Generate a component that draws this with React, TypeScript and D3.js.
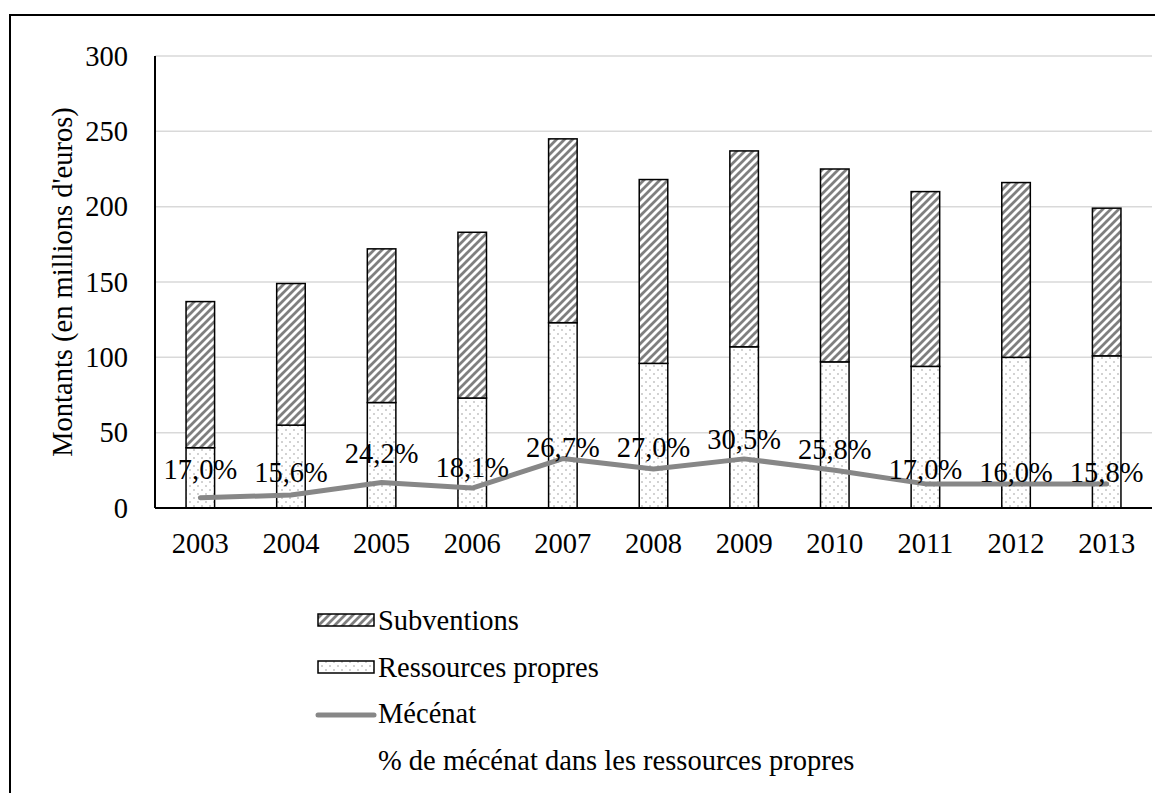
import * as d3 from 'd3';

const annees = ['2003', '2004', '2005', '2006', '2007', '2008', '2009', '2010', '2011', '2012', '2013'];
const ressourcesPropres = [40, 55, 70, 73, 123, 96, 107, 97, 94, 100, 101];
const subventions = [97, 94, 102, 110, 122, 122, 130, 128, 116, 116, 98];
const mecenat = [6.8, 8.6, 16.9, 13.2, 32.8, 25.9, 32.6, 25, 16, 16, 16];
const pctMecenat = [17.0, 15.6, 24.2, 18.1, 26.7, 27.0, 30.5, 25.8, 17.0, 16.0, 15.8];
const yTicks = [0, 50, 100, 150, 200, 250, 300];
const legendLabels = ['Subventions', 'Ressources propres', 'Mécénat', '% de mécénat dans les ressources propres'];

const GRIS = '#878787';
const SERIF = '"Liberation Serif", Tinos, "Times New Roman", Times, serif';

const left = 155, right = 1152, top = 56, bottom = 508;

const App = () => {
    const x = d3.scaleBand().domain(annees).range([left, right])
        .paddingInner(0.685).paddingOuter(0.3425);
    const y = d3.scaleLinear().domain([0, 300]).range([bottom, top]);
    // axe secondaire masqué pour les étiquettes de pourcentage
    const yPct = d3.scaleLinear().domain([0, 200]).range([bottom, top]);
    const bw = x.bandwidth();
    const cx = (a: string) => (x(a) ?? 0) + bw / 2;

    const line = d3.line<number>()
        .x((_, i) => cx(annees[i]))
        .y(d => y(d));

    const lx = 318, lw = 56, tx = 378;

    return (
        <svg width={1155} height={793} fontFamily={SERIF} fontSize={28.5}
            style={{ position: 'absolute', left: 0, top: 0, background: '#fff' }}>
            <style>{`text { font-family: ${SERIF} !important; font-size: 28.5px; }`}</style>
            <defs>
                <pattern id="hachures" patternUnits="userSpaceOnUse" width={8} height={8}>
                    <rect width={8} height={8} fill="#fff" />
                    <path d="M-2,2 L2,-2 M0,8 L8,0 M6,10 L10,6" stroke="#7f7f7f" strokeWidth={2.8} />
                </pattern>
                <pattern id="points" patternUnits="userSpaceOnUse" width={8} height={8}>
                    <rect width={8} height={8} fill="#fff" />
                    <circle cx={2} cy={2} r={0.8} fill="#9a9a9a" />
                    <circle cx={6} cy={6} r={0.8} fill="#9a9a9a" />
                </pattern>
            </defs>

            {/* cadre */}
            <rect x={10} y={15} width={1200} height={850} fill="none" stroke="#000" strokeWidth={2} />

            {/* grille */}
            {yTicks.filter(t => t > 0).map(t => (
                <line key={t} x1={left} x2={right} y1={y(t)} y2={y(t)} stroke="#d9d9d9" strokeWidth={1.5} />
            ))}

            {/* graduations */}
            {yTicks.map(t => (
                <text key={t} x={128} y={y(t)} dy="0.34em" textAnchor="end">{t}</text>
            ))}

            <text transform={`translate(72, ${(top + bottom) / 2}) rotate(-90)`} textAnchor="middle">
                Montants (en millions d'euros)
            </text>

            {/* ressources propres */}
            {annees.map((a, i) => (
                <rect key={'rp' + a} x={x(a)} width={bw} y={y(ressourcesPropres[i])}
                    height={bottom - y(ressourcesPropres[i])}
                    fill="url(#points)" stroke="#000" strokeWidth={1.5} />
            ))}

            {/* subventions */}
            {annees.map((a, i) => (
                <rect key={'sub' + a} x={x(a)} width={bw} y={y(ressourcesPropres[i] + subventions[i])}
                    height={y(ressourcesPropres[i]) - y(ressourcesPropres[i] + subventions[i])}
                    fill="url(#hachures)" stroke="#000" strokeWidth={1.5} />
            ))}

            {/* axes */}
            <line x1={left} x2={left} y1={top} y2={bottom} stroke="#000" strokeWidth={2} />
            <line x1={left} x2={right} y1={bottom} y2={bottom} stroke="#000" strokeWidth={2} />

            {annees.map(a => (
                <text key={'yr' + a} x={cx(a)} y={553} textAnchor="middle">{a}</text>
            ))}

            {/* mécénat */}
            <path d={line(mecenat) ?? ''} fill="none" stroke={GRIS} strokeWidth={5}
                strokeLinejoin="round" strokeLinecap="round" />

            {/* étiquettes % */}
            {pctMecenat.map((p, i) => (
                <text key={'pct' + i} x={cx(annees[i])} y={yPct(p)} dy="0.34em" textAnchor="middle">
                    {p.toFixed(1).replace('.', ',') + '%'}
                </text>
            ))}

            {/* légende */}
            <rect x={lx} y={614} width={lw} height={12} fill="url(#hachures)" stroke="#000" strokeWidth={1.5} />
            <rect x={lx} y={661} width={lw} height={12} fill="url(#points)" stroke="#000" strokeWidth={1.5} />
            <line x1={lx} x2={lx + lw} y1={715} y2={715} stroke={GRIS} strokeWidth={5} strokeLinecap="round" />
            {legendLabels.map((l, i) => (
                <text key={l} x={tx} y={630 + i * 46.5}>{l}</text>
            ))}
        </svg>
    );
};

export default App;
